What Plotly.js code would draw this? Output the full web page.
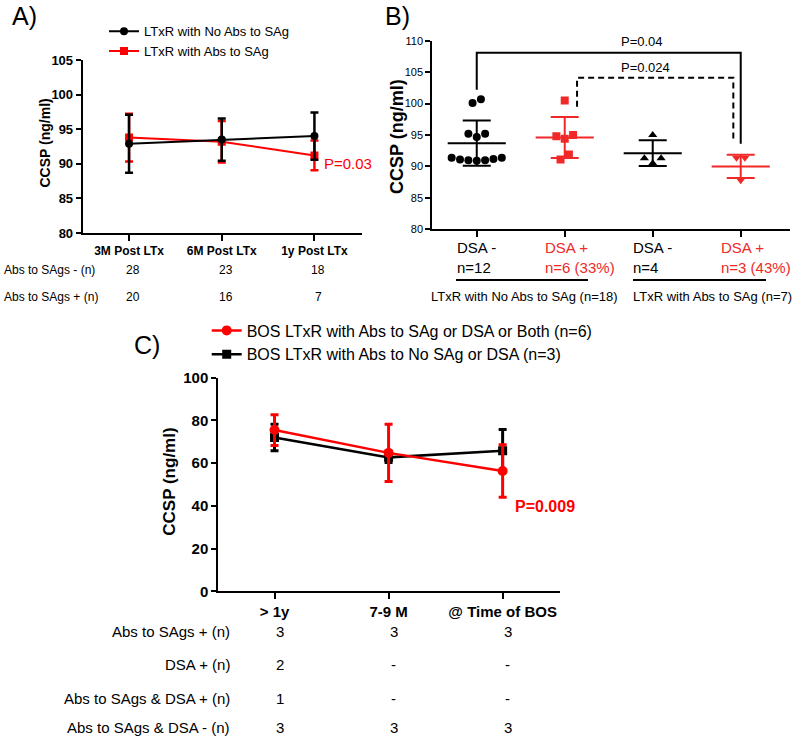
<!DOCTYPE html>
<html><head><meta charset="utf-8">
<script src="https://cdn.plot.ly/plotly-3.0.1.min.js"></script>
<style>html,body{margin:0;padding:0;background:#fff}#chart{width:800px;height:738px}</style>
</head><body><div id="chart"></div>
<script>
// ---------- Panel A data ----------
const aCategories = ['3M Post LTx', '6M Post LTx', '1y Post LTx'];
const aNoAbsMean = [92.9, 93.5, 94.0];
const aNoAbsErr = [4.2, 3.05, 3.4];
const aAbsMean = [93.8, 93.2, 91.2];
const aAbsErr = [3.45, 3.0, 2.15];
const aSeriesNames = ['LTxR with No Abs to SAg', 'LTxR with Abs to SAg'];
const aRowLabels = ['Abs to SAgs - (n)', 'Abs to SAgs + (n)'];
const aCountsNeg = ['28', '23', '18'];
const aCountsPos = ['20', '16', '7'];
const aPValue = 'P=0.03';

// ---------- Panel B data ----------
const bTickTop = ['DSA -', 'DSA +', 'DSA -', 'DSA +'];
const bTickBottom = ['n=12', 'n=6 (33%)', 'n=4', 'n=3 (43%)'];
const bNoAbsDsaNeg = [100.1, 100.7, 95.2, 94.7, 95.2, 91.4, 91.1, 91.0, 90.9, 91.0, 91.2, 91.4];
const bNoAbsDsaPos = [100.5, 94.8, 94.4, 95.0, 91.9, 91.1];
const bAbsDsaNeg = [95.0, 91.3, 91.3, 90.5];
const bAbsDsaPos = [91.4, 91.4, 87.8];
const bMeans = [93.7, 94.6, 92.1, 90.0];
const bSD = [3.6, 3.25, 2.05, 1.85];
const bGroupLabels = ['LTxR with No Abs to SAg (n=18)', 'LTxR with Abs to SAg (n=7)'];
const bPValues = ['P=0.04', 'P=0.024'];

// ---------- Panel C data ----------
const cCategories = ['> 1y', '7-9 M', '@ Time of BOS'];
const cAbsMean = [75.5, 64.8, 56.3];
const cAbsErr = [7.2, 13.4, 12.3];
const cNoAbsMean = [72.0, 62.7, 65.8];
const cNoAbsErr = [6.2, 2.4, 10.0];
const cSeriesNames = ['BOS LTxR with Abs to SAg or DSA or Both (n=6)', 'BOS LTxR with Abs to No SAg or DSA (n=3)'];
const cRowLabels = ['Abs to SAgs + (n)', 'DSA + (n)', 'Abs to SAgs & DSA + (n)', 'Abs to SAgs & DSA - (n)'];
const cCounts = [['3', '3', '3'], ['2', '-', '-'], ['1', '-', '-'], ['3', '3', '3']];
const cPValue = 'P=0.009';

// ---------- styling ----------
const FONT = 'Arial, "Liberation Sans", sans-serif';
const RED = '#ff0000';
const BRED = '#f02828';
const BLACK = '#000000';
const idx3 = [0, 1, 2];

// beeswarm-like horizontal spread computed from the values
function swarm(vals, step, tol) {
  const order = vals.map((v, i) => i).sort((a, b) => vals[a] - vals[b]);
  const clusters = [];
  order.forEach(i => {
    const c = clusters[clusters.length - 1];
    if (c && vals[i] - vals[c[0]] <= tol) c.push(i); else clusters.push([i]);
  });
  const off = new Array(vals.length).fill(0);
  clusters.forEach(c => {
    if (c.length % 2 === 1) {
      c.forEach((i, k) => { const r = Math.ceil(k / 2); off[i] = k === 0 ? 0 : (k % 2 === 1 ? -r : r) * step; });
    } else {
      c.forEach((i, k) => { const r = Math.floor(k / 2) + 0.5; off[i] = (k % 2 === 0 ? -r : r) * step; });
    }
  });
  return off;
}

const traces = [];

// Panel A (red first so black draws on top; legend reversed)
traces.push({
  x: idx3, y: aAbsMean, name: aSeriesNames[1], type: 'scatter', mode: 'lines+markers',
  xaxis: 'x', yaxis: 'y', legend: 'legend',
  line: {color: RED, width: 2}, marker: {color: RED, symbol: 'square', size: 8},
  error_y: {type: 'data', array: aAbsErr, visible: true, color: RED, thickness: 2.5, width: 4}
});
traces.push({
  x: idx3, y: aNoAbsMean, name: aSeriesNames[0], type: 'scatter', mode: 'lines+markers',
  xaxis: 'x', yaxis: 'y', legend: 'legend',
  line: {color: BLACK, width: 2}, marker: {color: BLACK, symbol: 'circle', size: 8},
  error_y: {type: 'data', array: aNoAbsErr, visible: true, color: BLACK, thickness: 2.5, width: 4}
});

// Panel B points
const bGroups = [
  {vals: bNoAbsDsaNeg, color: BLACK, symbol: 'circle'},
  {vals: bNoAbsDsaPos, color: BRED, symbol: 'square'},
  {vals: bAbsDsaNeg, color: BLACK, symbol: 'triangle-up'},
  {vals: bAbsDsaPos, color: BRED, symbol: 'triangle-down'}
];
bGroups.forEach((g, gi) => {
  const off = swarm(g.vals, 0.095, 1.2);
  traces.push({
    x: g.vals.map((v, i) => gi + off[i]), y: g.vals, type: 'scatter', mode: 'markers',
    xaxis: 'x2', yaxis: 'y2', showlegend: false, hoverinfo: 'y',
    marker: {color: g.color, symbol: g.symbol, size: 8}
  });
});
// Panel B mean +/- SD
[[0, 2, BLACK], [1, 3, BRED]].forEach(([i, j, col]) => {
  traces.push({
    x: [i, j], y: [bMeans[i], bMeans[j]], type: 'scatter', mode: 'markers',
    xaxis: 'x2', yaxis: 'y2', showlegend: false,
    marker: {symbol: 'line-ew', size: 41.5, color: col, line: {color: col, width: 2}},
    error_y: {type: 'data', array: [bSD[i], bSD[j]], visible: true, color: col, thickness: 2, width: 14}
  });
});

// Panel C (black first so red draws on top; legend reversed)
traces.push({
  x: idx3, y: cNoAbsMean, name: cSeriesNames[1], type: 'scatter', mode: 'lines+markers',
  xaxis: 'x3', yaxis: 'y3', legend: 'legend2',
  line: {color: BLACK, width: 2.5}, marker: {color: BLACK, symbol: 'square', size: 9},
  error_y: {type: 'data', array: cNoAbsErr, visible: true, color: BLACK, thickness: 3, width: 4}
});
traces.push({
  x: idx3, y: cAbsMean, name: cSeriesNames[0], type: 'scatter', mode: 'lines+markers',
  xaxis: 'x3', yaxis: 'y3', legend: 'legend2',
  line: {color: RED, width: 2.5}, marker: {color: RED, symbol: 'circle', size: 10},
  error_y: {type: 'data', array: cAbsErr, visible: true, color: RED, thickness: 3, width: 4}
});

function axisBase(extra) {
  return Object.assign({
    showline: true, linewidth: 2, linecolor: BLACK, mirror: false,
    ticks: 'outside', tickwidth: 2, tickcolor: BLACK,
    showgrid: false, zeroline: false, fixedrange: true
  }, extra);
}

const annotations = [];
function ann(o) {
  annotations.push(Object.assign({showarrow: false, xanchor: 'center', yanchor: 'middle',
    font: {family: FONT, size: 12, color: BLACK}}, o));
}
function py(px) { return 1 - px / 738; }
function pxx(px) { return px / 800; }

// panel letters
ann({text: 'A)', x: pxx(24), y: py(16), xref: 'paper', yref: 'paper', font: {family: FONT, size: 25, color: BLACK}});
ann({text: 'B)', x: pxx(397), y: py(16), xref: 'paper', yref: 'paper', font: {family: FONT, size: 25, color: BLACK}});
ann({text: 'C)', x: pxx(147), y: py(345), xref: 'paper', yref: 'paper', font: {family: FONT, size: 25, color: BLACK}});

// y titles
ann({text: 'CCSP (ng/ml)', textangle: -90, x: pxx(45), y: py(143.5), xref: 'paper', yref: 'paper', font: {family: FONT, size: 14, color: BLACK, weight: 700}});
ann({text: 'CCSP (ng/ml)', textangle: -90, x: pxx(397), y: py(137), xref: 'paper', yref: 'paper', font: {family: FONT, size: 18, color: BLACK, weight: 700}});
ann({text: 'CCSP (ng/ml)', textangle: -90, x: pxx(170), y: py(481.7), xref: 'paper', yref: 'paper', font: {family: FONT, size: 17, color: BLACK, weight: 700}});

// Panel A table
aRowLabels.forEach((t, r) => {
  const yy = py(r === 0 ? 270 : 297);
  ann({text: t, x: pxx(2), y: yy, xref: 'paper', yref: 'paper', xanchor: 'left'});
  const counts = r === 0 ? aCountsNeg : aCountsPos;
  counts.forEach((c, i) => ann({text: c, x: i, xref: 'x', y: yy, yref: 'paper', xshift: 4}));
});
ann({text: aPValue, x: 2, xref: 'x', y: 90, yref: 'y', xanchor: 'left', xshift: 8, font: {family: FONT, size: 15, color: RED}});

// Panel B tick labels
const bColors = [BLACK, BRED, BLACK, BRED];
bTickTop.forEach((t, i) => {
  ann({text: t + '<br>' + bTickBottom[i], x: i, xref: 'x2', y: py(257.5), yref: 'paper',
       xanchor: 'left', yanchor: 'middle', align: 'left', xshift: -22,
       font: {family: FONT, size: 15, color: bColors[i]}});
});
ann({text: bGroupLabels[0], x: pxx(524), y: py(296), xref: 'paper', yref: 'paper', font: {family: FONT, size: 13, color: BLACK}});
ann({text: bGroupLabels[1], x: pxx(712.5), y: py(296), xref: 'paper', yref: 'paper', font: {family: FONT, size: 13, color: BLACK}});
ann({text: bPValues[0], x: 1.88, xref: 'x2', y: 109.8, yref: 'y2', font: {family: FONT, size: 13, color: BLACK}});
ann({text: bPValues[1], x: 1.92, xref: 'x2', y: 105.8, yref: 'y2', font: {family: FONT, size: 13, color: BLACK}});

// Panel C table
const cRowY = [631.7, 664, 698.3, 727.3];
cRowLabels.forEach((t, r) => {
  ann({text: t, x: pxx(231.7), y: py(cRowY[r]), xref: 'paper', yref: 'paper', xanchor: 'right', font: {family: FONT, size: 15, color: BLACK}});
  cCounts[r].forEach((c, i) => ann({text: c, x: i, xref: 'x3', y: py(cRowY[r]), yref: 'paper', xshift: 5, font: {family: FONT, size: 15, color: BLACK}}));
});
ann({text: cPValue, x: 2, xref: 'x3', y: 39.5, yref: 'y3', xanchor: 'left', xshift: 10, font: {family: FONT, size: 16, color: RED, weight: 700}});

const shapes = [
  {type: 'path', xref: 'x2', yref: 'y2', path: 'M0,102.2 L0,108.1 L3,108.1 L3,93.6', line: {color: BLACK, width: 2}},
  {type: 'path', xref: 'x2', yref: 'y2', path: 'M1.14,99.5 L1.14,104.1 L2.916,104.1 L2.916,94.2', line: {color: BLACK, width: 2, dash: '6px,4px'}},
  {type: 'line', xref: 'paper', yref: 'paper', x0: pxx(456), x1: pxx(588), y0: py(280), y1: py(280), line: {color: BLACK, width: 2}},
  {type: 'line', xref: 'paper', yref: 'paper', x0: pxx(633), x1: pxx(766), y0: py(280), y1: py(280), line: {color: BLACK, width: 2}}
];

const layout = {
  width: 800, height: 738,
  margin: {l: 0, r: 0, t: 0, b: 0},
  paper_bgcolor: '#ffffff', plot_bgcolor: 'rgba(0,0,0,0)',
  font: {family: FONT, color: BLACK},
  xaxis: axisBase({domain: [pxx(82.7), pxx(361.7)], range: [-0.5, 2.51], anchor: 'y',
    tickvals: idx3, ticktext: aCategories, ticklen: 6, tickfont: {family: FONT, size: 12, weight: 700}}),
  yaxis: axisBase({domain: [py(233), py(60)], range: [80, 105], anchor: 'x', tick0: 80, dtick: 5, ticklen: 5,
    tickfont: {family: FONT, size: 13, weight: 700}}),
  xaxis2: axisBase({domain: [pxx(432.3), pxx(790)], range: [-0.505, 3.56], anchor: 'y2',
    tickvals: [0, 1, 2, 3], showticklabels: false, ticklen: 6}),
  yaxis2: axisBase({domain: [py(229.3), py(40.7)], range: [80, 110], anchor: 'x2', tick0: 80, dtick: 5, ticklen: 5,
    tickfont: {family: FONT, size: 11}}),
  xaxis3: axisBase({domain: [pxx(218.3), pxx(560)], range: [-0.493, 2.503], anchor: 'y3',
    tickvals: idx3, ticktext: cCategories, ticklen: 6, tickfont: {family: FONT, size: 15, weight: 700}}),
  yaxis3: axisBase({domain: [py(591.3), py(377.7)], range: [0, 100], anchor: 'x3', tick0: 0, dtick: 20, ticklen: 5,
    tickfont: {family: FONT, size: 15, weight: 700}}),
  legend: {x: pxx(104), y: py(16.25), xanchor: 'left', yanchor: 'top', traceorder: 'reversed',
    bgcolor: 'rgba(0,0,0,0)', font: {family: FONT, size: 13, color: BLACK}},
  legend2: {x: pxx(206.7), y: py(313.5), xanchor: 'left', yanchor: 'top', traceorder: 'reversed',
    bgcolor: 'rgba(0,0,0,0)', font: {family: FONT, size: 16, color: BLACK}},
  showlegend: true,
  annotations: annotations,
  shapes: shapes
};

Plotly.newPlot('chart', traces, layout, {displayModeBar: false, staticPlot: true});
</script></body></html>
